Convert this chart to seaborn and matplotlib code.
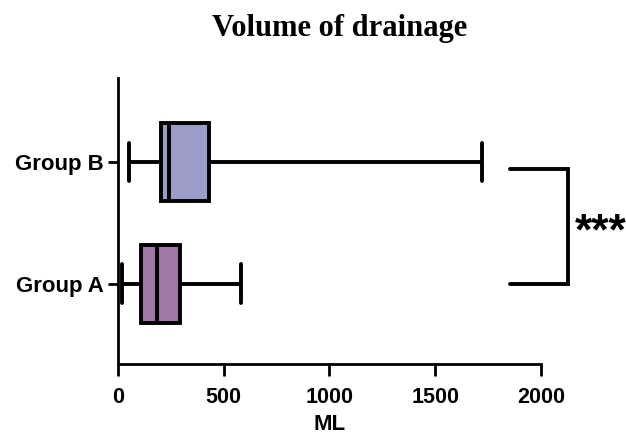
import matplotlib
matplotlib.use("Agg")
import matplotlib.pyplot as plt
import pandas as pd
import seaborn as sns

# five-number summaries (min, q1, median, q3, max)
groups = ['Group B', 'Group A']
group_b = [52, 203, 241, 430, 1720]
group_a = [19, 109, 184, 293, 582]
box_colors = ['#9b9dc9', '#a078a7']

df = pd.DataFrame({
    'Group': ['Group B'] * len(group_b) + ['Group A'] * len(group_a),
    'ML': group_b + group_a,
})

sns.set_theme(style="ticks")
plt.rcParams['font.family'] = ['Liberation Sans', 'DejaVu Sans']
plt.rcParams['text.color'] = 'black'
plt.rcParams['axes.labelcolor'] = 'black'
plt.rcParams['xtick.color'] = 'black'
plt.rcParams['ytick.color'] = 'black'

fig = plt.figure(figsize=(6.26, 4.36), dpi=100)
ax = fig.add_axes([0.1885, 0.165, 0.6755, 0.656])

lw = 2.8
sns.boxplot(data=df, x='ML', y='Group', order=groups, hue='Group', hue_order=groups,
            palette=box_colors, saturation=1, whis=(0, 100), width=0.64,
            linewidth=lw, linecolor='black', legend=False, ax=ax)

ax.set_xlim(0, 2000)
ax.set_ylim(1.66, -0.69)
ax.set_xticks([0, 500, 1000, 1500, 2000])
ax.set_xlabel('ML', fontsize=16, fontweight='bold', labelpad=4)
ax.set_ylabel('')
ax.set_title('Volume of drainage', fontsize=22, fontweight='bold', x=0.524,
             family=['Liberation Serif', 'DejaVu Serif'], pad=30)

for lab in ax.get_xticklabels() + ax.get_yticklabels():
    lab.set_fontweight('bold')
for lab in ax.get_xticklabels():
    lab.set_fontsize(15.5)
for lab in ax.get_yticklabels():
    lab.set_fontsize(16)

ax.tick_params(axis='x', length=8.5, width=2, pad=8)
ax.tick_params(axis='y', length=7, width=2, pad=3)
for side in ['left', 'bottom']:
    ax.spines[side].set_linewidth(2)
    ax.spines[side].set_color('black')
sns.despine(ax=ax)

# significance bracket between the two groups
bx0, bx1 = 1855, 2128
ax.plot([bx0, bx1, bx1, bx0], [0.06, 0.06, 1.0, 1.0], color='black',
        lw=lw, clip_on=False, solid_joinstyle='miter')
ax.text(2160, 0.58, '***', fontsize=32, fontweight='bold', ha='left',
        va='center', clip_on=False)

fig.savefig('out.png', dpi=100)
